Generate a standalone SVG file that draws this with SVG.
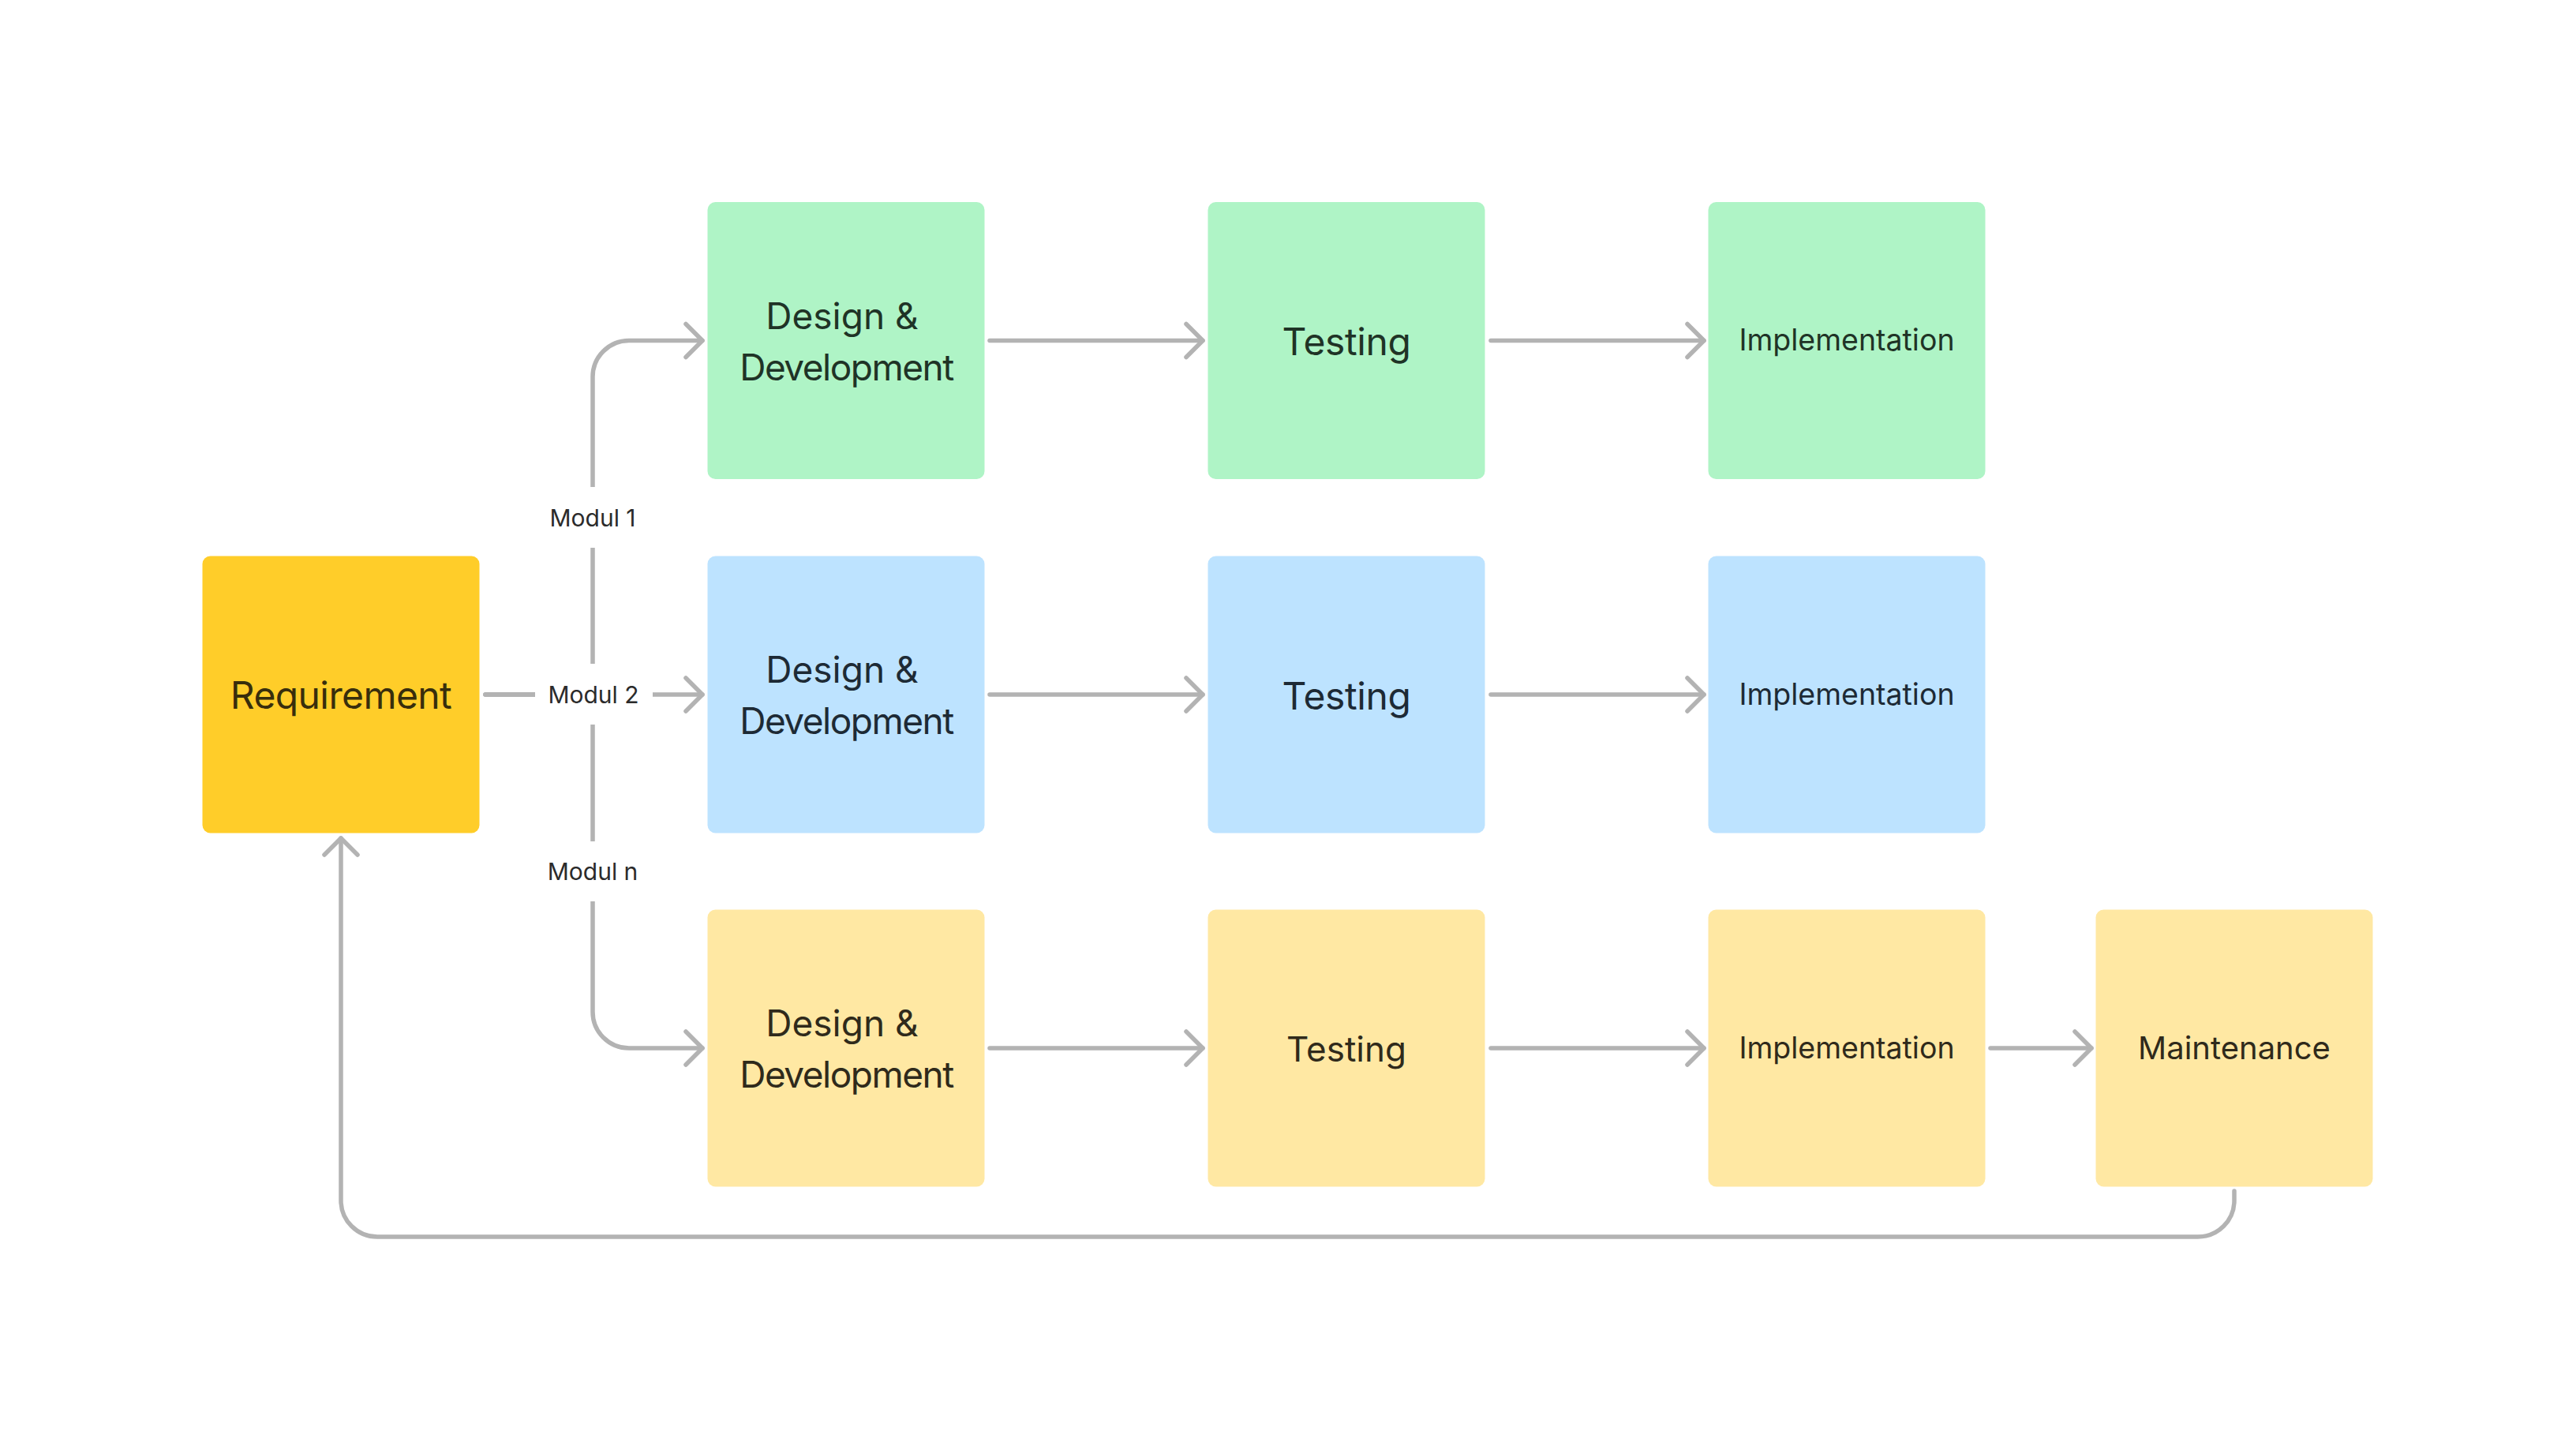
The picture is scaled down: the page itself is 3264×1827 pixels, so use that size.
<svg xmlns="http://www.w3.org/2000/svg" width="3264" height="1827" viewBox="0 0 3264 1827">
<style>
  text { font-family: Inter, "Liberation Sans", sans-serif; text-anchor: middle; }
  .conn { fill: none; stroke: #b3b3b3; stroke-width: 5.5; stroke-linecap: round; stroke-linejoin: round; }
  .green { fill: #aff4c6; }
  .blue { fill: #bde3ff; }
  .ylw { fill: #ffe8a3; }
  .req { fill: #ffcd29; }
  .tg { fill: #1f3326; }
  .tb { fill: #1d2a35; }
  .ty { fill: #2f2a1b; }
  .tr { fill: #382e0c; }
  .dev { letter-spacing: -1.5px; }
  .lbl { font-size: 30px; fill: #2b2b2b; }
  .lblbg { fill: #ffffff; }
</style>
<defs>
  <marker id="arr" viewBox="-26 -26 32 52" markerWidth="32" markerHeight="52" refX="0" refY="0" orient="auto" markerUnits="userSpaceOnUse" overflow="visible">
    <path d="M -21 -21 L 0 0 L -21 21" fill="none" stroke="#b3b3b3" stroke-width="5.5" stroke-linecap="round" stroke-linejoin="round"/>
  </marker>
</defs>
<rect width="3264" height="1827" fill="#ffffff"/>

<g id="connectors">
  <path class="conn" marker-end="url(#arr)" d="M 615 880 H 751 V 477.5 A 46 46 0 0 1 797 431.5 H 890"/>
  <path class="conn" marker-end="url(#arr)" d="M 615 880 H 890"/>
  <path class="conn" marker-end="url(#arr)" d="M 615 880 H 751 V 1282 A 46 46 0 0 0 797 1328 H 890"/>
  <path class="conn" marker-end="url(#arr)" d="M 1254 431.5 H 1524"/>
  <path class="conn" marker-end="url(#arr)" d="M 1889 431.5 H 2159"/>
  <path class="conn" marker-end="url(#arr)" d="M 1254 880 H 1524"/>
  <path class="conn" marker-end="url(#arr)" d="M 1889 880 H 2159"/>
  <path class="conn" marker-end="url(#arr)" d="M 1254 1328 H 1524"/>
  <path class="conn" marker-end="url(#arr)" d="M 1889 1328 H 2159"/>
  <path class="conn" marker-end="url(#arr)" d="M 2522 1328 H 2650"/>
  <path class="conn" marker-end="url(#arr)" d="M 2831 1509 V 1521 A 46 46 0 0 1 2785 1567 H 478 A 46 46 0 0 1 432 1521 V 1062"/>
  <g id="label-modul1">
    <rect class="lblbg" x="676" y="617" width="150" height="77"/>
    <text class="lbl" x="751" y="667">Modul 1</text>
  </g>
  <g id="label-modul2">
    <rect class="lblbg" x="678" y="841" width="149" height="77"/>
    <text class="lbl" x="752" y="891">Modul 2</text>
  </g>
  <g id="label-moduln">
    <rect class="lblbg" x="676" y="1066" width="150" height="76"/>
    <text class="lbl" x="751" y="1115">Modul n</text>
  </g>
</g>

<g id="requirement">
  <rect class="req" x="256.5" y="704.5" width="351" height="351" rx="10"/>
  <text class="tr" x="432" y="898" font-size="48" letter-spacing="-0.6">Requirement</text>
</g>

<g id="dd1">
  <rect class="green" x="896.5" y="256" width="351" height="351" rx="10"/>
  <text class="tg" x="1067" y="416.5" font-size="46">Design &amp;</text>
  <text class="tg dev" x="1072.5" y="482" font-size="46">Development</text>
</g>
<g id="test1">
  <rect class="green" x="1530.5" y="256" width="351" height="351" rx="10"/>
  <text class="tg" x="1706" y="450" font-size="48" letter-spacing="-0.4">Testing</text>
</g>
<g id="impl1">
  <rect class="green" x="2164.5" y="256" width="351" height="351" rx="10"/>
  <text class="tg" x="2340" y="444" font-size="37.5">Implementation</text>
</g>

<g id="dd2">
  <rect class="blue" x="896.5" y="704.5" width="351" height="351" rx="10"/>
  <text class="tb" x="1067" y="865" font-size="46">Design &amp;</text>
  <text class="tb dev" x="1072.5" y="930" font-size="46">Development</text>
</g>
<g id="test2">
  <rect class="blue" x="1530.5" y="704.5" width="351" height="351" rx="10"/>
  <text class="tb" x="1706" y="898.5" font-size="48" letter-spacing="-0.4">Testing</text>
</g>
<g id="impl2">
  <rect class="blue" x="2164.5" y="704.5" width="351" height="351" rx="10"/>
  <text class="tb" x="2340" y="892.5" font-size="37.5">Implementation</text>
</g>

<g id="dd3">
  <rect class="ylw" x="896.5" y="1152.5" width="351" height="351" rx="10"/>
  <text class="ty" x="1067" y="1313" font-size="46">Design &amp;</text>
  <text class="ty dev" x="1072.5" y="1378" font-size="46">Development</text>
</g>
<g id="test3">
  <rect class="ylw" x="1530.5" y="1152.5" width="351" height="351" rx="10"/>
  <text class="ty" x="1706" y="1345" font-size="44">Testing</text>
</g>
<g id="impl3">
  <rect class="ylw" x="2164.5" y="1152.5" width="351" height="351" rx="10"/>
  <text class="ty" x="2340" y="1341" font-size="37.5">Implementation</text>
</g>
<g id="maint">
  <rect class="ylw" x="2655.5" y="1152.5" width="351" height="351" rx="10"/>
  <text class="ty" x="2831" y="1342" font-size="40">Maintenance</text>
</g>
</svg>
